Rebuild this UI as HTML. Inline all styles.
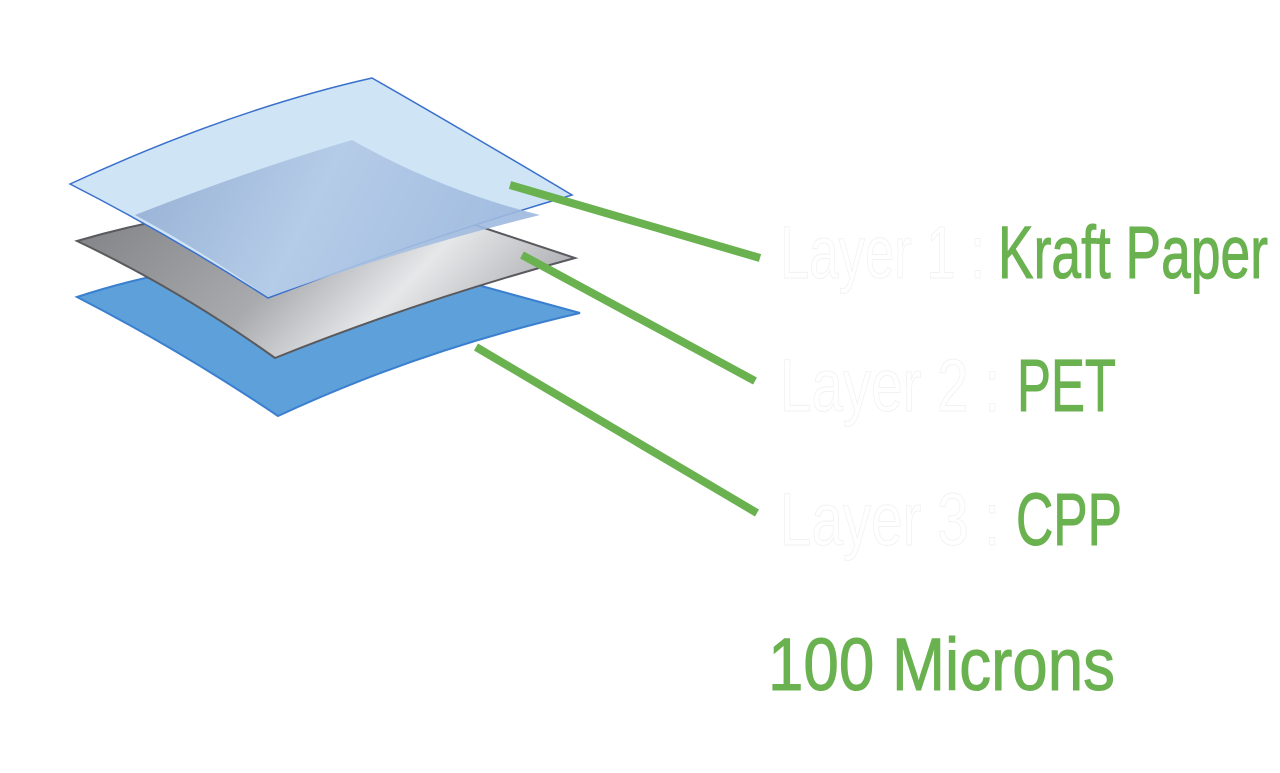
<!DOCTYPE html>
<html><head><meta charset="utf-8"><style>html,body{margin:0;padding:0;background:#fff;width:1280px;height:773px;overflow:hidden}</style></head>
<body>
<svg width="1280" height="773" viewBox="0 0 1280 773" xmlns="http://www.w3.org/2000/svg">
<defs>
<linearGradient id="g" x1="0" y1="0" x2="1" y2="0.3">
<stop offset="0" stop-color="#7f8084"/><stop offset="0.5" stop-color="#a9aaae"/><stop offset="0.75" stop-color="#e6e7e9"/><stop offset="1" stop-color="#b4b5b8"/></linearGradient>
<linearGradient id="in" x1="0" y1="0" x2="1" y2="0.2">
<stop offset="0" stop-color="#8fa9d0"/><stop offset="0.5" stop-color="#b2c9e6"/><stop offset="1" stop-color="#9db8de"/></linearGradient>
</defs>
<path d="M77,297 Q250,240 430,272 L580,313 Q420,350 278,416 Q180,350 77,297 Z" fill="#5ea1da" stroke="#3a7fd0" stroke-width="2"/>
<path d="M77,241 Q250,190 430,210 L575,258 Q420,300 275,358 Q180,290 77,241 Z" fill="url(#g)" stroke="#5a5a5e" stroke-width="2"/>
<path d="M70,184 Q230,110 372,78 Q480,140 572,195 Q420,240 268,298 Q170,235 70,184 Z" fill="#cfe5f6" stroke="#3a70cc" stroke-width="1.5"/>
<path d="M135,215 Q250,170 352,140 Q440,190 540,215 Q400,250 268,297 Q200,250 135,215 Z" fill="url(#in)" opacity="0.9"/>
<g stroke="#6ab150" stroke-width="8" stroke-linecap="butt">
<line x1="510" y1="185" x2="760" y2="258"/>
<line x1="522" y1="255" x2="755" y2="381"/>
<line x1="476" y1="347" x2="757" y2="513"/>
</g>
<g font-family="'Liberation Sans Narrow','Liberation Sans',sans-serif" font-size="74">
<g fill="#ffffff" stroke="#f2f2f2" stroke-width="1">
<text x="780" y="278" textLength="205" lengthAdjust="spacingAndGlyphs">Layer 1 :</text>
<text x="780" y="411" textLength="220" lengthAdjust="spacingAndGlyphs">Layer 2 :</text>
<text x="780" y="545" textLength="220" lengthAdjust="spacingAndGlyphs">Layer 3 :</text>
</g>
<g fill="#6ab150" stroke="#6ab150" stroke-width="1">
<text x="998" y="278" textLength="270" lengthAdjust="spacingAndGlyphs">Kraft Paper</text>
<text x="1017" y="411" textLength="99" lengthAdjust="spacingAndGlyphs">PET</text>
<text x="1016" y="545" textLength="106" lengthAdjust="spacingAndGlyphs">CPP</text>
<text x="768" y="690" textLength="347" lengthAdjust="spacingAndGlyphs">100 Microns</text>
</g>
</g>
</svg>
</body></html>
